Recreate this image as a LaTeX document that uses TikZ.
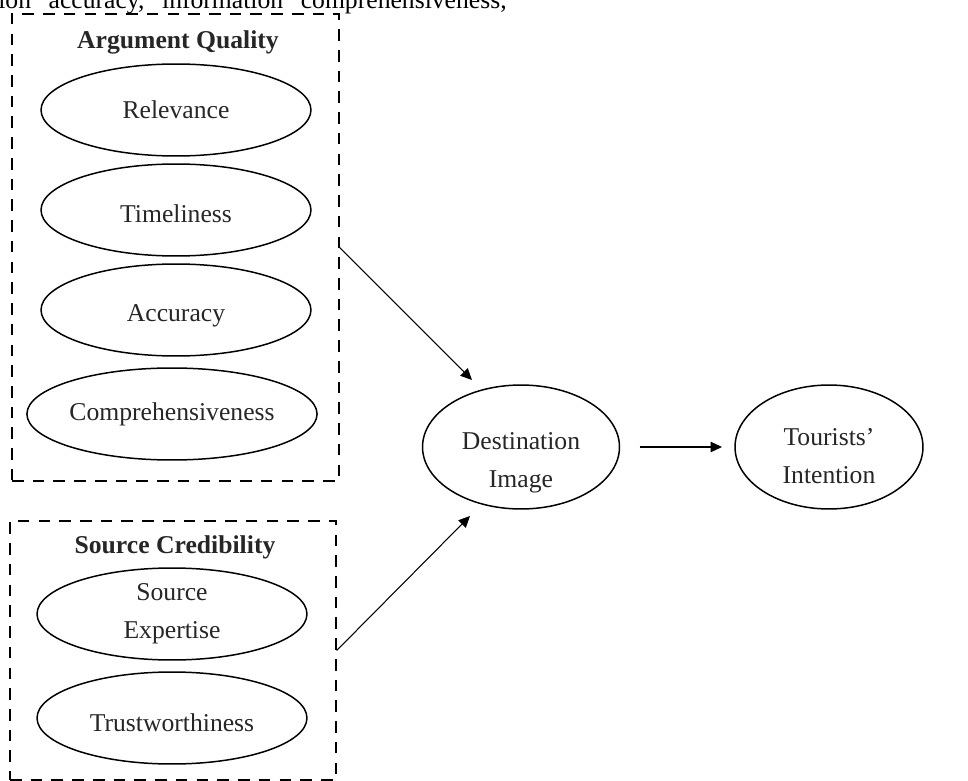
\documentclass[tikz,border=0pt]{standalone}
\usepackage{fontspec}
\setmainfont{Liberation Serif}
\usetikzlibrary{arrows.meta, calc, positioning, shapes.geometric}

\begin{document}
\begin{tikzpicture}[x=0.02cm, y=-0.02cm,
    every node/.style={font=\fontsize{14.6}{21.5}\selectfont, text=black!85},
    factor/.style={ellipse, draw, line width=0.85pt, inner sep=0pt, minimum width=5.4cm, minimum height=1.84cm, align=center},
    construct/.style={draw, dash pattern=on 6.6pt off 5.2pt, line width=0.8pt, inner sep=0pt},
    title/.style={font=\fontsize{14.6}{21.5}\selectfont\bfseries},
    arr/.style={-{Triangle[length=6.5pt, width=6pt]}, line width=0.6pt}
]
    \useasboundingbox (0, 0) rectangle (968, 781);
    \clip (0, 0) rectangle (968, 781);

    % 上文残句
    \node[anchor=base east, inner sep=0pt, text=black] (context) at (507, 9)
        {\spaceskip=10pt\relax information accuracy, information comprehensiveness,};

    % Argument Quality
    \node[construct, minimum width=6.54cm, minimum height=9.34cm] (aqbox) at (175.5, 247.5) {};
    \node[title] (aqtitle) at (178, 42) {Argument Quality};
    \node[factor] (rel) at (176, 110) {Relevance};
    \node[factor, label={[name=timtext, yshift=-2pt]center:Timeliness}] (tim) at (176, 210) {};
    \node[factor, label={[name=acctext, yshift=-3.5pt]center:Accuracy}] (acc) at (176, 310) {};
    \node[factor] (com) at (172, 414) {Comprehensiveness};

    % Source Credibility
    \node[construct, minimum width=6.52cm, minimum height=5.18cm] (scbox) at (173, 650.5) {};
    \node[title] (sctitle) at (175, 547) {Source Credibility};
    \node[factor] (exp) at (172, 614) {Source\\Expertise};
    \node[factor, label={[name=trutext, yshift=-2.5pt]center:Trustworthiness}] (tru) at (172, 718) {};

    % 结果变量
    \node[factor, minimum width=3.94cm, minimum height=2.48cm,
          label={[name=ditext, align=center, yshift=-9pt]center:Destination\\Image}] (di) at (521, 447) {};
    \node[factor, minimum width=3.76cm, minimum height=2.48cm,
          label={[name=titext, align=center, yshift=-5pt]center:Tourists'\\Intention}] (ti) at (829, 447) {};

    % 路径
    \coordinate (aqend) at (472, 380);
    \coordinate (scend) at (470, 516);
    \draw[arr] (aqbox.east) -- (aqend);
    \draw[arr] (scbox.east) -- (scend);
    \draw[arr, shorten <=11pt, shorten >=7pt] (di) -- (ti);
\end{tikzpicture}
\end{document}
